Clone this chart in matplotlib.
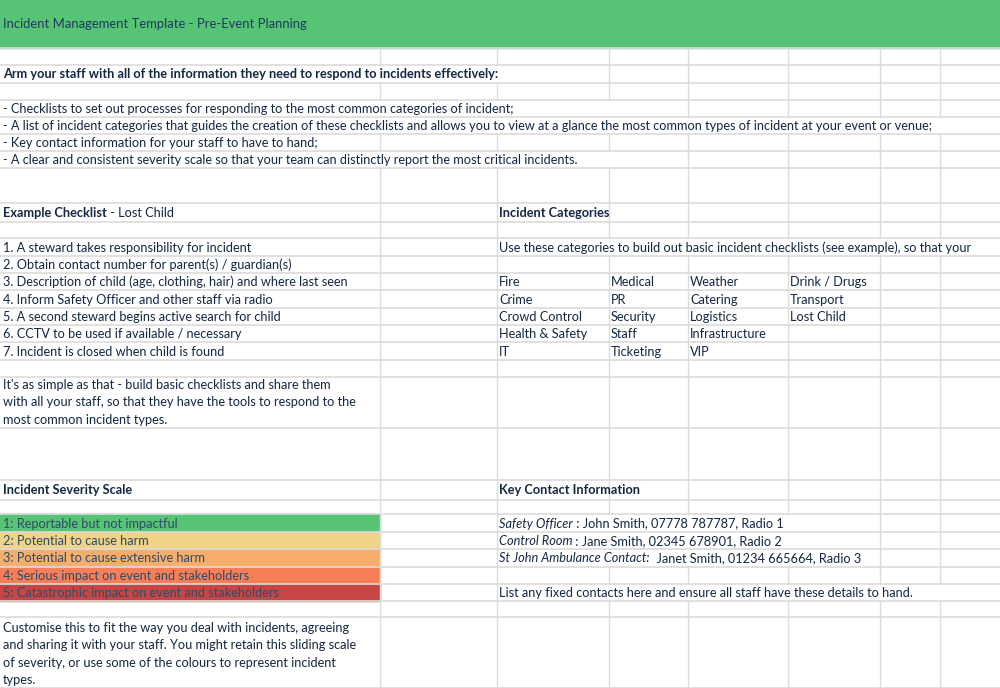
import matplotlib
matplotlib.use("Agg")
import matplotlib.pyplot as plt
from matplotlib.patches import Rectangle

title = "Incident Management Template - Pre-Event Planning"
intro = "Arm your staff with all of the information they need to respond to incidents effectively:"
bullets = [
    "- Checklists to set out processes for responding to the most common categories of incident;",
    "- A list of incident categories that guides the creation of these checklists and allows you to view at a glance the most common types of incident at your event or venue;",
    "- Key contact information for your staff to have to hand;",
    "- A clear and consistent severity scale so that your team can distinctly report the most critical incidents.",
]
checklist_steps = [
    "1. A steward takes responsibility for incident",
    "2. Obtain contact number for parent(s) / guardian(s)",
    "3. Description of child (age, clothing, hair) and where last seen",
    "4. Inform Safety Officer and other staff via radio",
    "5. A second steward begins active search for child",
    "6. CCTV to be used if available / necessary",
    "7. Incident is closed when child is found",
]
checklist_note = ["It's as simple as that - build basic checklists and share them",
                  "with all your staff, so that they have the tools to respond to the",
                  "most common incident types."]
cat_intro = "Use these categories to build out basic incident checklists (see example), so that your"
categories = [
    ["Fire", "Medical", "Weather", "Drink / Drugs"],
    ["Crime", "PR", "Catering", "Transport"],
    ["Crowd Control", "Security", "Logistics", "Lost Child"],
    ["Health & Safety", "Staff", "Infrastructure", ""],
    ["IT", "Ticketing", "VIP", ""],
]
severity = [
    "1: Reportable but not impactful",
    "2: Potential to cause harm",
    "3: Potential to cause extensive harm",
    "4: Serious impact on event and stakeholders",
    "5: Catastrophic impact on event and stakeholders",
]
severity_colors = ["#57c374", "#efd487", "#f7ae6b", "#f77f57", "#c64646"]
contacts = [("Safety Officer", " : John Smith, 07778 787787, Radio 1"),
            ("Control Room", " : Jane Smith, 02345 678901, Radio 2"),
            ("St John Ambulance Contact:", "  Janet Smith, 01234 665664, Radio 3")]
contact_note = "List any fixed contacts here and ensure all staff have these details to hand."
severity_note = ["Customise this to fit the way you deal with incidents, agreeing",
                 "and sharing it with your staff. You might retain this sliding scale",
                 "of severity, or use some of the colours to represent incident",
                 "types."]

cols = [0, 380, 497, 609, 688, 788, 880, 940, 1000]
rows = [0, 48, 65, 83, 100, 117, 134, 151, 168, 203, 222, 238, 256, 273, 290, 308, 325, 342,
        360, 377, 428, 480, 500, 514, 532, 549, 567, 584, 601, 617, 688]
span0 = {2: 540, 4: 620, 5: 990, 6: 380, 7: 620, 9: 380, 11: 380, 12: 380, 13: 380, 14: 380,
         15: 380, 16: 380, 19: 380, 21: 380, 29: 380}
span2 = {11: 1000, 27: 950, 25: 790, 24: 790, 23: 790}

NAVY = "#142743"
FONT = "Lato"
FS = 9.2

fig = plt.figure(figsize=(10, 6.88), dpi=100)
ax = fig.add_axes([0, 0, 1, 1])
ax.set_xlim(0, 1000)
ax.set_ylim(688, 0)
ax.axis("off")

ax.add_patch(Rectangle((0, 0), 1000, 48, color="#57c374", zorder=1))
for i, c in enumerate(severity_colors):
    ax.add_patch(Rectangle((0, rows[23 + i]), 380, rows[24 + i] - rows[23 + i], color=c, zorder=1))

grid = "#dcdcdc"
for r in rows[1:]:
    ax.plot([0, 1000], [r, r], color=grid, lw=1.2, zorder=2)
for ri in range(1, len(rows) - 1):
    y0, y1 = rows[ri], rows[ri + 1]
    for cx in cols[1:-1]:
        if cx < span0.get(ri, 0):
            continue
        if cols[2] < cx < span2.get(ri, 0):
            continue
        ax.plot([cx, cx], [y0, y1], color=grid, lw=1, zorder=2)

def t(x, y, s, bold=False, italic=False, color=NAVY, size=FS):
    return ax.text(x, y, s, fontsize=size, family=FONT, fontweight="bold" if bold else "normal",
                   style="italic" if italic else "normal", color=color, va="center", ha="left", zorder=3)

def mid(i):
    return (rows[i] + rows[i + 1]) / 2 + 0.5

def after(txt, y, s, **kw):
    fig.canvas.draw()
    bb = txt.get_window_extent().transformed(ax.transData.inverted())
    t(bb.x1, y, s, **kw)

t(3, 24, title, color="#1d3a5f", size=9.4)
t(3, mid(2), intro, bold=True)
for i, b in enumerate(bullets):
    t(3, mid(4 + i), b)
ex = t(3, mid(9), "Example Checklist", bold=True)
after(ex, mid(9), " - Lost Child")
t(499, mid(9), "Incident Categories", bold=True)
for i, s in enumerate(checklist_steps):
    t(3, mid(11 + i), s)
t(499, mid(11), cat_intro)
for i, row in enumerate(categories):
    for j, c in enumerate(row):
        t([499, 611, 690, 790][j], mid(13 + i), c)
for i, s in enumerate(checklist_note):
    t(3, 385 + 17.3 * i, s)
t(3, mid(21), "Incident Severity Scale", bold=True)
t(499, mid(21), "Key Contact Information", bold=True)
for i, s in enumerate(severity):
    t(3, mid(23 + i), s, color="#2f4a6a")
for i, (a, b) in enumerate(contacts):
    tx = t(499, mid(23 + i), a, italic=True)
    after(tx, mid(23 + i), b)
t(499, mid(27), contact_note)
for i, s in enumerate(severity_note):
    t(3, 628 + 17.3 * i, s)

fig.savefig("out.png", dpi=100)
